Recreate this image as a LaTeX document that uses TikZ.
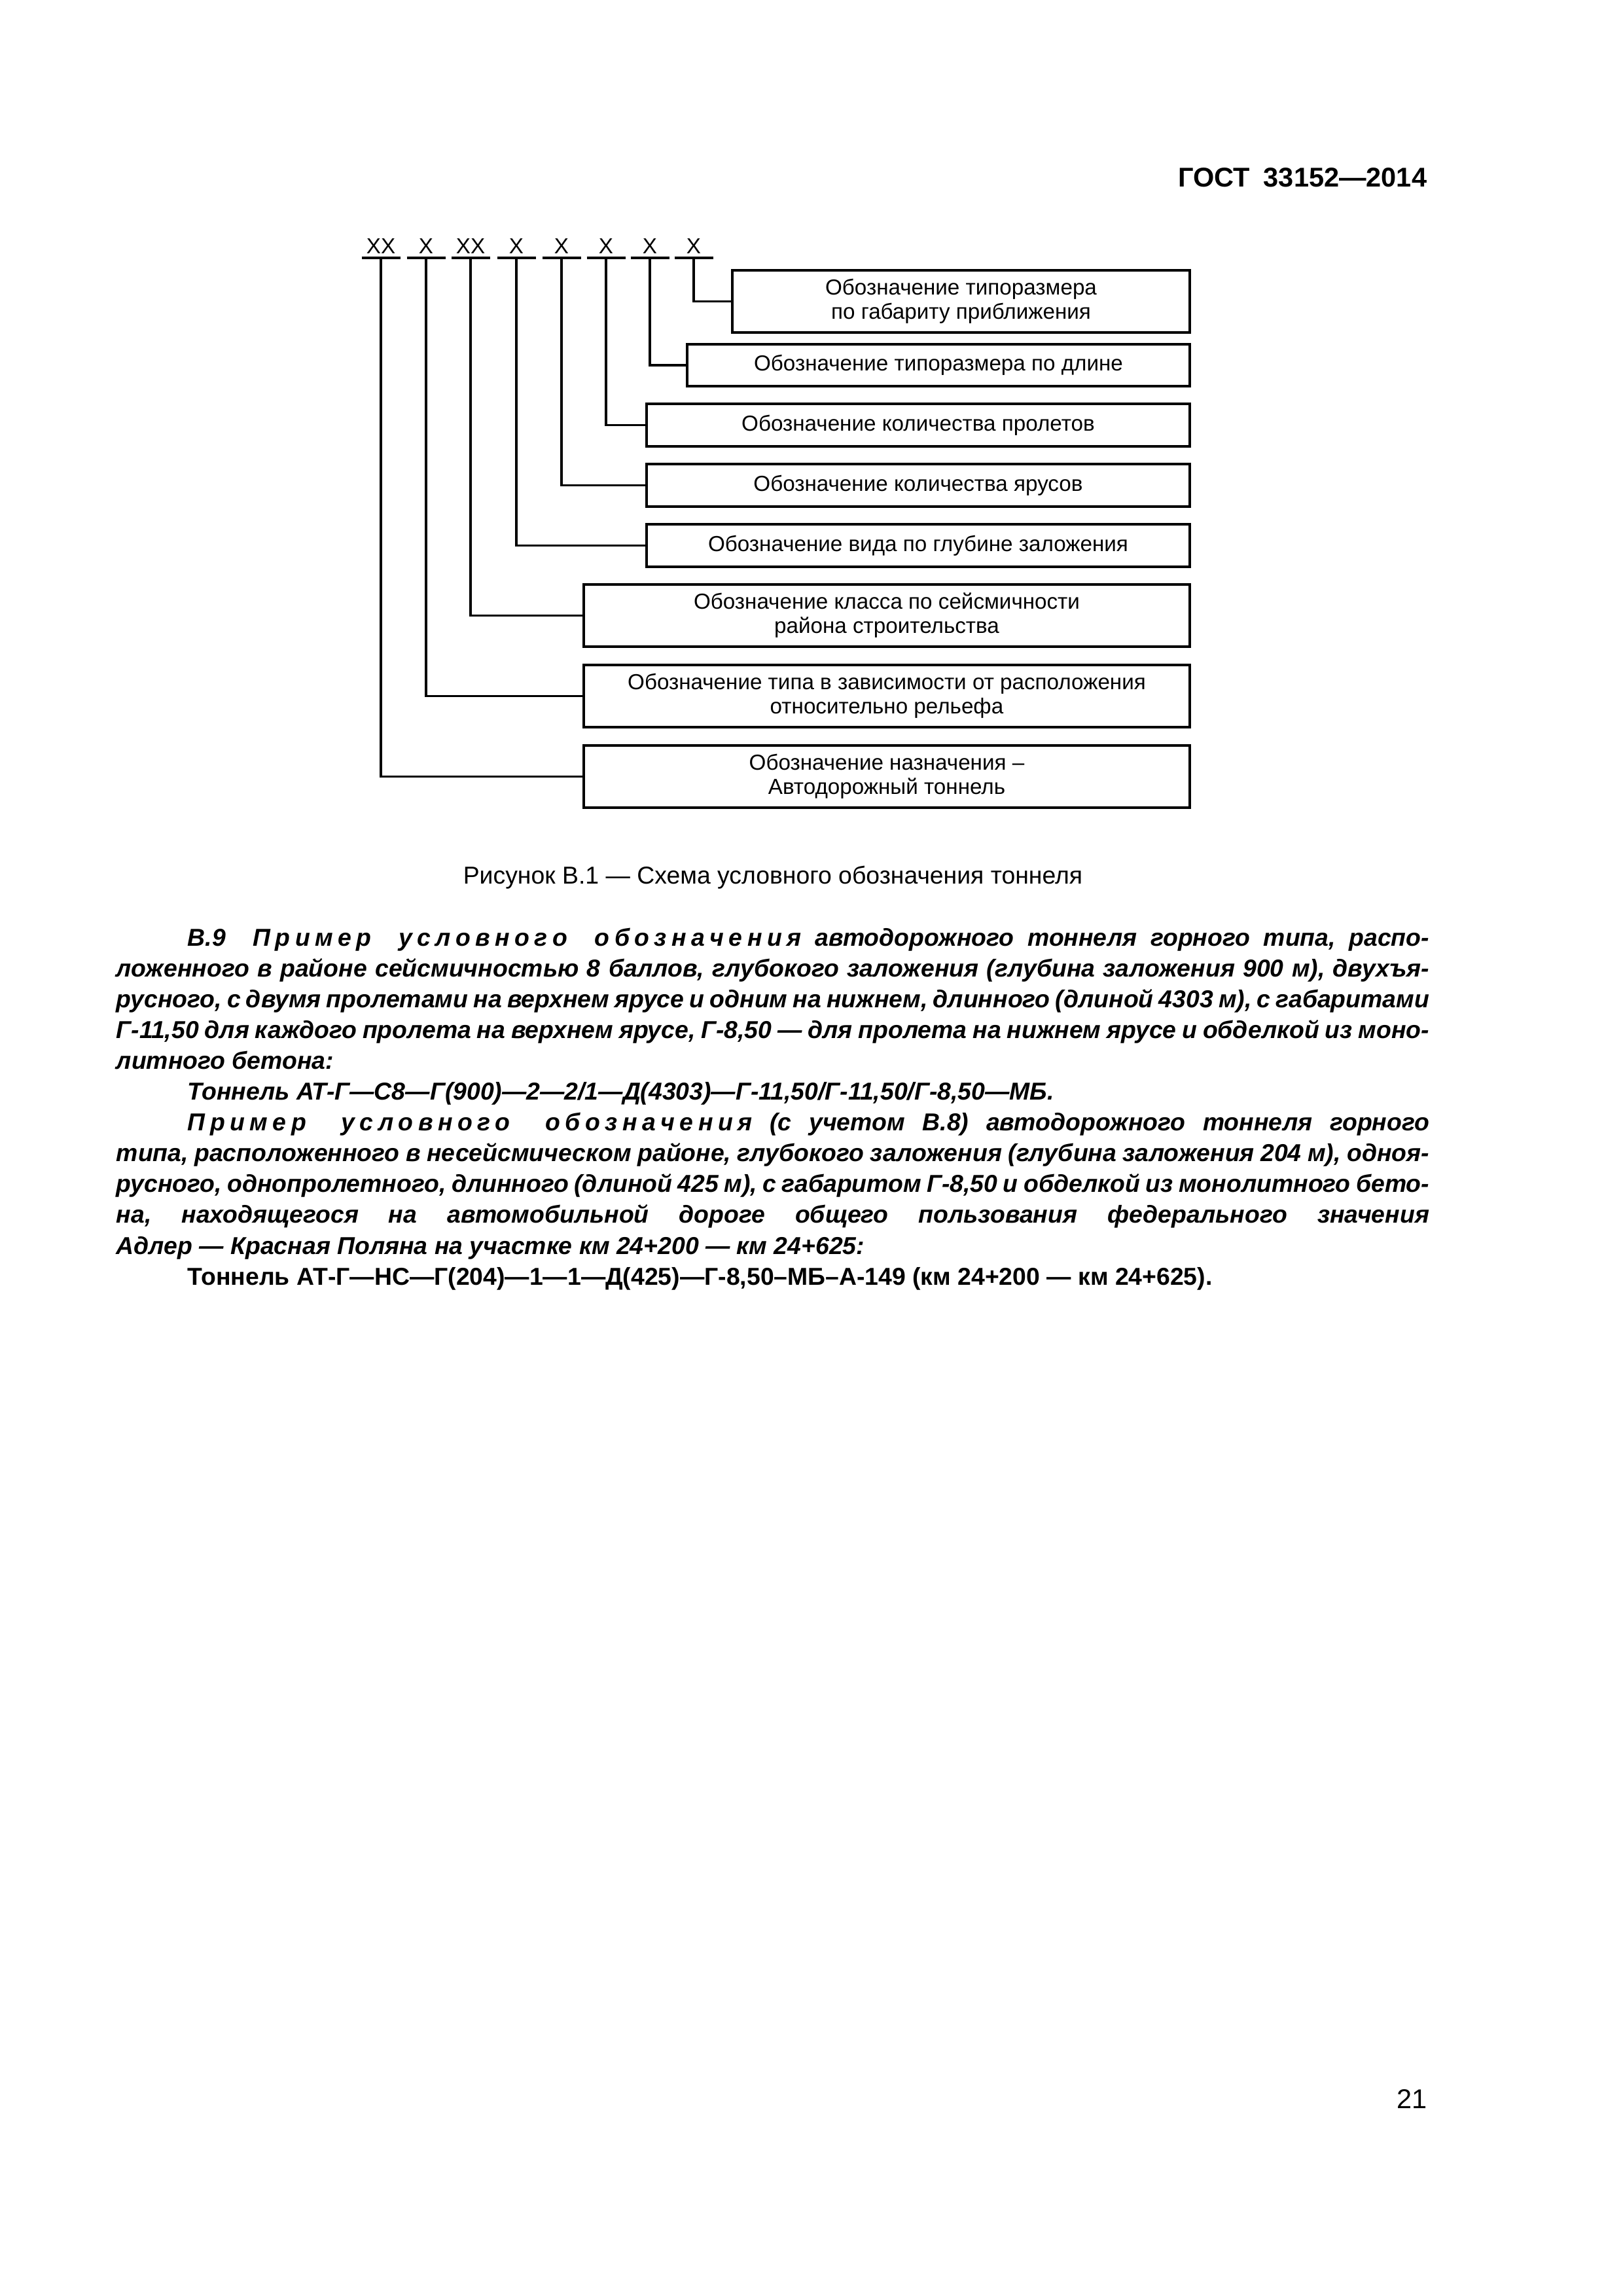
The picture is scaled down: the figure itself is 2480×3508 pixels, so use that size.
\documentclass[tikz,border=0pt]{standalone}
\usepackage{fontspec}
\setmainfont{Liberation Sans}
\frenchspacing
\newcommand\lsp{\kern0.2em}
\begin{document}
\begin{tikzpicture}[x=0.0846774mm, y=-0.0846774mm,
  box/.style={draw, line width=0.8pt, inner sep=0pt, align=center, font=\fontsize{8pt}{8.9pt}\selectfont},
  lab/.style={inner sep=0pt, anchor=base, font=\fontsize{8pt}{9pt}\selectfont},
  link/.style={line width=0.8pt},
  body/.style={inner sep=0pt, anchor=base west, font=\fontsize{9pt}{11pt}\selectfont\bfseries\itshape},
  bodyup/.style={inner sep=0pt, anchor=base west, font=\fontsize{9pt}{11pt}\selectfont\bfseries}]
\fill[white] (0,0) rectangle (2480,3508);
\useasboundingbox (0,0) rectangle (2480,3508);

% header and page number
\node[inner sep=0pt, anchor=base east, font=\fontsize{10pt}{12pt}\selectfont\bfseries] (hdr) at (2181,285) {ГОСТ\hspace{0.5em}33152—2014};
\node[inner sep=0pt, anchor=base east, font=\fontsize{10pt}{12pt}\selectfont] (pg) at (2181,3221) {21};

% designation labels
\node[lab] (x1) at (582,387) {XX};
\node[lab] (x2) at (651,387) {X};
\node[lab] (x3) at (719,387) {XX};
\node[lab] (x4) at (789,387) {X};
\node[lab] (x5) at (858,387) {X};
\node[lab] (x6) at (926,387) {X};
\node[lab] (x7) at (993,387) {X};
\node[lab] (x8) at (1060,387) {X};
\foreach \i/\xx in {1/582,2/651,3/719,4/789,5/858,6/926,7/993,8/1060}{
  \coordinate (u\i) at (\xx,394);
  \draw[link] (u\i) ++(-29.5,0) -- ++(59,0);
}

% boxes
\node[box, minimum width=168.41pt, minimum height=22.89pt] (b1) at (1468.5,460.5) {Обозначение типоразмера\\по габариту приближения};
\node[box, minimum width=185.03pt, minimum height=15.42pt] (b2) at (1434,558) {Обозначение типоразмера по длине};
\node[box, minimum width=199.97pt, minimum height=15.66pt] (b3) at (1403,649.5) {Обозначение количества пролетов};
\node[box, minimum width=199.97pt, minimum height=15.66pt] (b4) at (1403,741.5) {Обозначение количества ярусов};
\node[box, minimum width=199.97pt, minimum height=15.66pt] (b5) at (1403,833.5) {Обозначение вида по глубине заложения};
\node[box, minimum width=223.10pt, minimum height=22.89pt] (b6) at (1355,940.5) {Обозначение класса по сейсмичности\\района строительства};
\node[box, minimum width=223.10pt, minimum height=22.89pt] (b7) at (1355,1063.5) {Обозначение типа в зависимости от расположения\\относительно рельефа};
\node[box, minimum width=223.10pt, minimum height=22.89pt] (b8) at (1355,1186.5) {Обозначение назначения –\\Автодорожный тоннель};

% connectors
\draw[link] (u8) |- (b1.west);
\draw[link] (u7) |- (b2.west);
\draw[link] (u6) |- (b3.west);
\draw[link] (u5) |- (b4.west);
\draw[link] (u4) |- (b5.west);
\draw[link] (u3) |- (b6.west);
\draw[link] (u2) |- (b7.west);
\draw[link] (u1) |- (b8.west);

% caption
\node[inner sep=0pt, anchor=base, font=\fontsize{9pt}{11pt}\selectfont] (cap) at (1181,1350) {Рисунок В.1 — Схема условного обозначения тоннеля};

% body text
\node[body] (t1) at (286,1445) {\makebox[457.04pt][s]{В.9\ \ П\lsp р\lsp и\lsp м\lsp е\lsp р\ \ у\lsp с\lsp л\lsp о\lsp в\lsp н\lsp о\lsp г\lsp о\ \ о\lsp б\lsp о\lsp з\lsp н\lsp а\lsp ч\lsp е\lsp н\lsp и\lsp я автодорожного тоннеля горного типа, распо-}};
\node[body] (t2) at (177,1492.1) {\makebox[483.30pt][s]{ложенного в районе сейсмичностью 8 баллов, глубокого заложения (глубина заложения 900 м), двухъя-}};
\node[body] (t3) at (177,1539.2) {\makebox[483.30pt][s]{русного, с двумя пролетами на верхнем ярусе и одним на нижнем, длинного (длиной 4303 м), с габаритами}};
\node[body] (t4) at (177,1586.3) {\makebox[483.30pt][s]{Г-11,50 для каждого пролета на верхнем ярусе, Г-8,50 — для пролета на нижнем ярусе и обделкой из моно-}};
\node[body] (t5) at (177,1633.4) {литного бетона:};
\node[body] (t6) at (286,1680.5) {Тоннель АТ-Г—С8—Г(900)—2—2/1—Д(4303)—Г-11,50/Г-11,50/Г-8,50—МБ.};
\node[body] (t7) at (286,1727.6) {\makebox[457.04pt][s]{П\lsp р\lsp и\lsp м\lsp е\lsp р\ \ у\lsp с\lsp л\lsp о\lsp в\lsp н\lsp о\lsp г\lsp о\ \ о\lsp б\lsp о\lsp з\lsp н\lsp а\lsp ч\lsp е\lsp н\lsp и\lsp я (с учетом В.8) автодорожного тоннеля горного}};
\node[body] (t8) at (177,1774.7) {\makebox[483.30pt][s]{типа, расположенного в несейсмическом районе, глубокого заложения (глубина заложения 204 м), одноя-}};
\node[body] (t9) at (177,1821.8) {\makebox[483.30pt][s]{русного, однопролетного, длинного (длиной 425 м), с габаритом Г-8,50 и обделкой из монолитного бето-}};
\node[body] (t10) at (177,1868.9) {\makebox[483.30pt][s]{на, находящегося на автомобильной дороге общего пользования федерального значения}};
\node[body] (t11) at (177,1916) {Адлер — Красная Поляна на участке км 24+200 — км 24+625:};
\node[bodyup] (t12) at (286,1963.1) {Тоннель АТ-Г—НС—Г(204)—1—1—Д(425)—Г-8,50–МБ–А-149 (км 24+200 — км 24+625).};
\end{tikzpicture}
\end{document}
